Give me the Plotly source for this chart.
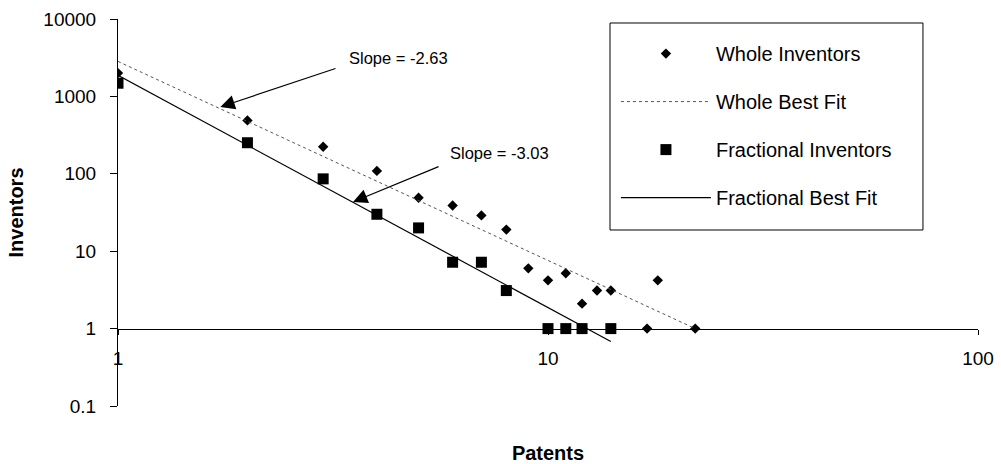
import numpy as np
import plotly.graph_objects as go

# ---- data ----
whole_patents = [1, 2, 3, 4, 5, 6, 7, 8, 9, 10, 11, 12, 13, 14, 17, 18, 22]
whole_inventors = [2000, 490, 224, 109, 49, 39, 29, 19, 6.0, 4.2, 5.2, 2.1, 3.1, 3.1, 1, 4.2, 1]

frac_patents = [1, 2, 3, 4, 5, 6, 7, 8, 10, 11, 12, 14]
frac_inventors = [1480, 252, 86, 30, 20, 7.2, 7.2, 3.1, 1, 1, 1, 1]

# best-fit lines (endpoints of the drawn power-law lines)
whole_fit_x = [1, 22]
whole_fit_y = [2830, 1]
frac_fit_x = [1, 14]
frac_fit_y = [1870, 0.68]

slope_texts = ["Slope = -2.63", "Slope = -3.03"]
slope_text_x = [3.41, 5.85]
slope_text_y = [3130, 186]
arrow_head_x = [1.73, 3.52]
arrow_head_y = [730, 43.3]
arrow_tail_x = [3.23, 5.61]
arrow_tail_y = [2330, 126]

x_ticks = [1, 10, 100]
x_ticklabels = ["1", "10", "100"]
y_ticks = [0.1, 1, 10, 100, 1000, 10000]
y_ticklabels = ["0.1", "1", "10", "100", "1000", "10000"]

FONT = "Liberation Sans, Arial, sans-serif"

fig = go.Figure()
fig.add_trace(go.Scatter(x=whole_patents, y=whole_inventors, mode="markers",
                         name="Whole Inventors", legendgroup="a",
                         marker=dict(symbol="diamond", size=8, color="black")))
fig.add_trace(go.Scatter(x=whole_fit_x, y=whole_fit_y, mode="lines",
                         name="Whole Best Fit", legendgroup="b",
                         line=dict(color="#555555", width=1, dash="dot")))
fig.add_trace(go.Scatter(x=frac_patents, y=frac_inventors, mode="markers",
                         name="Fractional Inventors", legendgroup="c",
                         marker=dict(symbol="square", size=11, color="black")))
fig.add_trace(go.Scatter(x=frac_fit_x, y=frac_fit_y, mode="lines",
                         name="Fractional Best Fit", legendgroup="d",
                         line=dict(color="black", width=1.2)))

annotations = []
for t, tx, ty in zip(slope_texts, slope_text_x, slope_text_y):
    annotations.append(dict(x=np.log10(tx), y=np.log10(ty), xref="x", yref="y",
                            text=t, showarrow=False, xanchor="left", yanchor="middle",
                            font=dict(family=FONT, size=16.5, color="black")))
for hx, hy, tx, ty in zip(arrow_head_x, arrow_head_y, arrow_tail_x, arrow_tail_y):
    annotations.append(dict(x=np.log10(hx), y=np.log10(hy), xref="x", yref="y",
                            ax=np.log10(tx), ay=np.log10(ty), axref="x", ayref="y",
                            text="", showarrow=True, arrowhead=2, arrowsize=2.4,
                            arrowwidth=1.2, arrowcolor="black"))

fig.update_layout(
    width=1001, height=464,
    margin=dict(l=118, r=23, t=19, b=58, autoexpand=False),
    paper_bgcolor="white", plot_bgcolor="white",
    font=dict(family=FONT, size=19, color="black"),
    showlegend=True,
    legend=dict(x=0.579, y=0.961, xanchor="left", yanchor="top",
                borderwidth=0, bgcolor="rgba(0,0,0,0)",
                font=dict(family=FONT, size=20, color="black"),
                tracegroupgap=19, itemwidth=90),
    shapes=[dict(type="rect", xref="paper", yref="paper",
                 x0=0.5721, x1=0.936, y0=0.4548, y1=0.9897,
                 line=dict(color="black", width=1), fillcolor="white",
                 layer="above")],
    annotations=annotations,
)

fig.update_xaxes(type="log", range=[0, 2], showgrid=False, zeroline=False,
                 showline=True, linecolor="black", linewidth=1,
                 anchor="free", position=0.2,
                 tickmode="array", tickvals=x_ticks, ticktext=x_ticklabels,
                 ticks="outside", ticklen=5, tickcolor="black",
                 ticklabelstandoff=8,
                 title=dict(text="<b>Patents</b>", standoff=78,
                            font=dict(family=FONT, size=20, color="black")))
fig.update_yaxes(type="log", range=[-1, 4], showgrid=False, zeroline=False,
                 showline=True, linecolor="black", linewidth=1,
                 tickmode="array", tickvals=y_ticks, ticktext=y_ticklabels,
                 ticks="outside", ticklen=7, tickcolor="black",
                 ticklabelstandoff=10,
                 title=dict(text="<b>Inventors</b>", standoff=14,
                            font=dict(family=FONT, size=20, color="black")))

fig.write_html("out.html")
